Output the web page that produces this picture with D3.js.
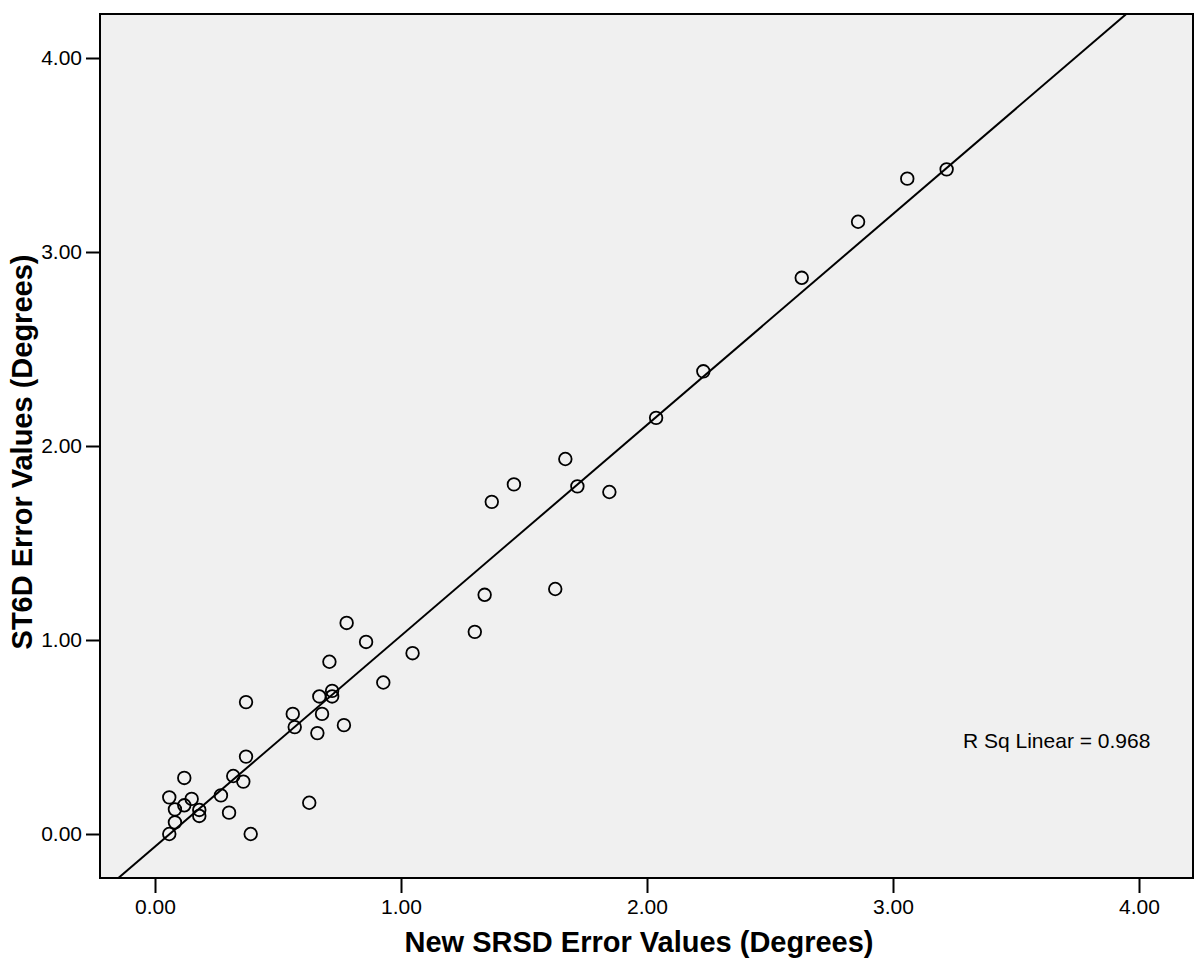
<!DOCTYPE html>
<html>
<head>
<meta charset="utf-8">
<script src="https://cdn.jsdelivr.net/npm/d3@7"></script>
<style>
  body { margin: 0; background: #fff; }
  svg text { font-family: "Liberation Sans", Arial, sans-serif; fill: #000; }
  .axis path { display: none; }
  .axis line { stroke: #000; stroke-width: 2; }
  .axis text { font-size: 21px; }
</style>
</head>
<body>
<div id="chart"></div>
<script>
// data
var srsd = [0.779, 0.858, 1.047, 0.709, 0.928, 0.668, 0.720, 0.720, 0.370, 0.560,
            0.679, 0.768, 0.568, 0.660, 0.370, 0.318, 0.359, 0.119, 0.268, 0.058,
            0.149, 0.081, 0.119, 0.180, 0.180, 0.301, 0.627, 0.081, 0.058, 0.389,
            1.668, 1.459, 1.369, 1.717, 1.847, 1.340, 1.627, 1.300,
            2.037, 2.229, 2.629, 2.858, 3.058, 3.218];
var st6d = [1.088, 0.990, 0.932, 0.888, 0.781, 0.709, 0.738, 0.709, 0.680, 0.619,
            0.619, 0.561, 0.551, 0.520, 0.399, 0.299, 0.270, 0.289, 0.199, 0.189,
            0.181, 0.127, 0.148, 0.124, 0.093, 0.110, 0.161, 0.060, 0.000, 0.000,
            1.933, 1.802, 1.712, 1.792, 1.763, 1.233, 1.263, 1.042,
            2.145, 2.385, 2.867, 3.156, 3.378, 3.426];
var xTicks = [0, 1, 2, 3, 4];
var yTicks = [0, 1, 2, 3, 4];
var fitSlope = 1.087;
var fitIntercept = -0.065;
var rSqLabel = "R Sq Linear = 0.968";

var W = 1200, H = 971;
var margin = { top: 14, right: 7, bottom: 93, left: 100 };
var width = W - margin.left - margin.right;
var height = H - margin.top - margin.bottom;

var svg = d3.select("#chart").append("svg")
    .attr("width", W)
    .attr("height", H);

var g = svg.append("g")
    .attr("transform", "translate(" + margin.left + "," + margin.top + ")");

var x = d3.scaleLinear().domain([-0.2236, 4.2195]).range([0, width]);
var y = d3.scaleLinear().domain([-0.2268, 4.2268]).range([height, 0]);

// plot background
g.append("rect")
    .attr("width", width)
    .attr("height", height)
    .attr("fill", "#f0f0f0");

svg.append("clipPath").attr("id", "clip")
  .append("rect").attr("width", width).attr("height", height);

// fit line
var xd = x.domain();
g.append("line")
    .attr("clip-path", "url(#clip)")
    .attr("x1", x(xd[0]))
    .attr("y1", y(fitSlope * xd[0] + fitIntercept))
    .attr("x2", x(xd[1]))
    .attr("y2", y(fitSlope * xd[1] + fitIntercept))
    .attr("stroke", "#000")
    .attr("stroke-width", 2);

// points
g.selectAll(".pt")
    .data(srsd)
    .enter().append("circle")
    .attr("class", "pt")
    .attr("cx", function(d) { return x(d); })
    .attr("cy", function(d, i) { return y(st6d[i]); })
    .attr("r", 6.3)
    .attr("fill", "none")
    .attr("stroke", "#000")
    .attr("stroke-width", 1.8);

// frame
g.append("rect")
    .attr("width", width)
    .attr("height", height)
    .attr("fill", "none")
    .attr("stroke", "#000")
    .attr("stroke-width", 2);

// axes
g.append("g")
    .attr("class", "axis")
    .attr("transform", "translate(0," + height + ")")
    .call(d3.axisBottom(x).tickValues(xTicks).tickFormat(d3.format(".2f"))
          .tickSize(15).tickPadding(6));

g.append("g")
    .attr("class", "axis")
    .call(d3.axisLeft(y).tickValues(yTicks).tickFormat(d3.format(".2f"))
          .tickSize(14).tickPadding(4));

// r squared note
g.append("text")
    .attr("x", 963 - margin.left)
    .attr("y", 748 - margin.top)
    .style("font-size", "21px")
    .text(rSqLabel);

// axis titles
svg.append("text")
    .attr("x", 639)
    .attr("y", 952)
    .attr("text-anchor", "middle")
    .style("font-size", "29px")
    .style("font-weight", "bold")
    .text("New SRSD Error Values (Degrees)");

svg.append("text")
    .attr("transform", "translate(32,452) rotate(-90)")
    .attr("text-anchor", "middle")
    .style("font-size", "29px")
    .style("font-weight", "bold")
    .text("ST6D Error Values (Degrees)");
</script>
</body>
</html>
